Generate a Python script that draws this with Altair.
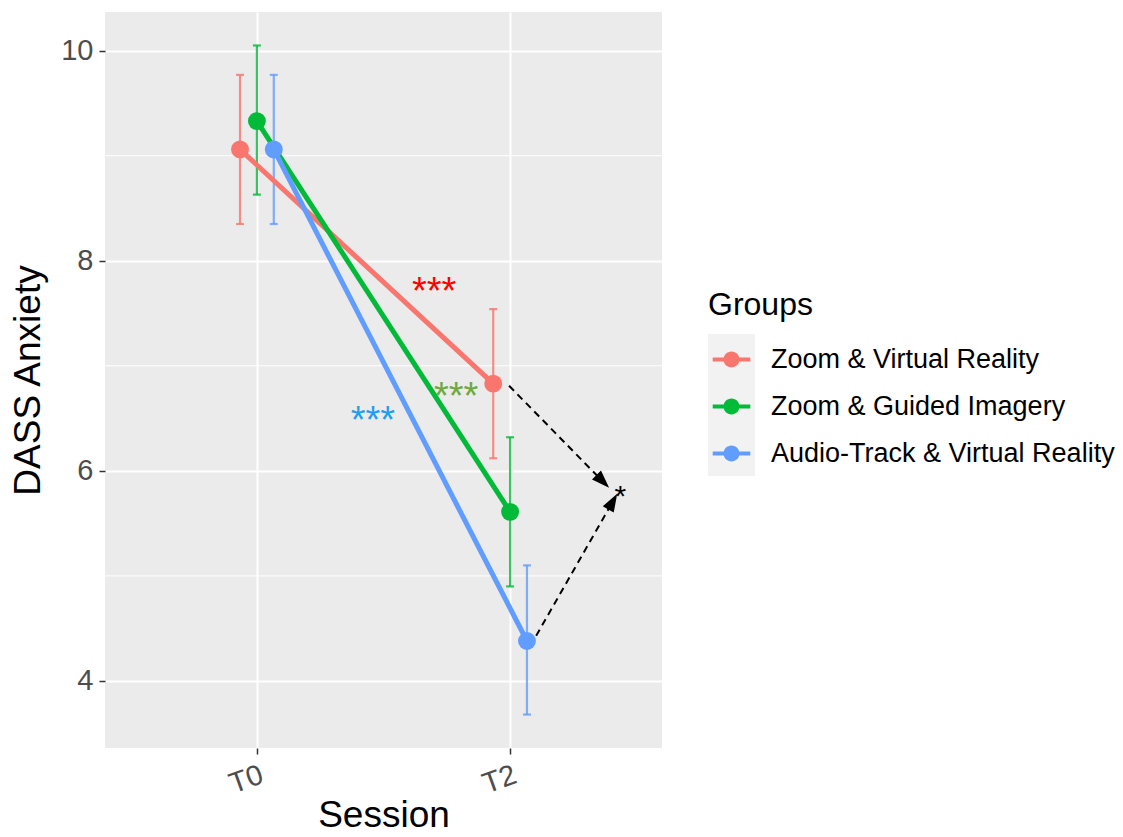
import math
import altair as alt
import pandas as pd

# ---------------- data ----------------
sessions = ["T0", "T2"]
groups = ["Zoom & Virtual Reality", "Zoom & Guided Imagery", "Audio-Track & Virtual Reality"]
group_colors = ["#F8766D", "#00BA38", "#619CFF"]

mean_zvr = [9.06, 6.83]
mean_zgi = [9.33, 5.61]
mean_atvr = [9.06, 4.38]
lower_zvr = [8.35, 6.12]
lower_zgi = [8.63, 4.90]
lower_atvr = [8.35, 3.68]
upper_zvr = [9.77, 7.54]
upper_zgi = [10.05, 6.32]
upper_atvr = [9.77, 5.10]

# significance annotations (x in session index units, T0 = 0)
star_keys = ["zvr", "zgi", "atvr", "diff"]
star_text = ["***", "***", "***", "*"]
star_x = [0.70, 0.787, 0.458, 1.435]
star_y = [7.79, 6.79, 6.56, 5.83]
star_colors = ["#FF0000", "#6DAA3C", "#1F9FF0", "#000000"]

arrow_from_x = [0.996, 1.103]
arrow_from_y = [6.81, 4.43]
arrow_to_x = [1.391, 1.423]
arrow_to_y = [5.838, 5.781]

# ---------------- build tables ----------------
means = [mean_zvr, mean_zgi, mean_atvr]
lowers = [lower_zvr, lower_zgi, lower_atvr]
uppers = [upper_zvr, upper_zgi, upper_atvr]
dodge = 0.2
rows = []
for gi, g in enumerate(groups):
    for si, s in enumerate(sessions):
        rows.append({
            "group": g, "session": s,
            "x": si + (gi - 1) * dodge / 3,
            "mean": means[gi][si], "lower": lowers[gi][si], "upper": uppers[gi][si],
        })
df = pd.DataFrame(rows)

W, H = 557, 736
lo = min(min(l) for l in lowers)
hi = max(max(u) for u in uppers)
pad = 0.05 * (hi - lo)
y_dom = [lo - pad, hi + pad]
x_dom = [-0.6, len(sessions) - 1 + 0.6]
px_x = W / (x_dom[1] - x_dom[0])
px_y = H / (y_dom[1] - y_dom[0])

head_half = 9
arrows = []
heads = []
for fx, fy, tx, ty in zip(arrow_from_x, arrow_from_y, arrow_to_x, arrow_to_y):
    dxp = (tx - fx) * px_x
    dyp = -(ty - fy) * px_y
    L = math.hypot(dxp, dyp)
    ux, uy = dxp / L, dyp / L
    ang = math.degrees(math.atan2(ux, -uy)) % 360
    cx = tx - ux * head_half / px_x
    cy = ty + uy * head_half / px_y
    arrows.append({"x": fx, "y": fy, "x2": cx, "y2": cy})
    heads.append({"x": cx, "y": cy, "angle": ang})
arrows_df = pd.DataFrame(arrows)
heads_df = pd.DataFrame(heads)
stars_df = pd.DataFrame({"key": star_keys, "text": star_text, "x": star_x, "y": star_y})
minor_df = pd.DataFrame({"v": [5, 7, 9]})

FONT = "Liberation Sans"
# fill scale: explicit domain (carries the legend); stroke scale: data-sorted domain
fill_scale = alt.Scale(domain=groups, range=group_colors)
sorted_groups = sorted(groups)
stroke_scale = alt.Scale(range=[group_colors[groups.index(g)] for g in sorted_groups])
label_expr = " : ".join(f"datum.value == {i} ? '{s}'" for i, s in enumerate(sessions)) + " : ''"

x_scale = alt.Scale(domain=x_dom, nice=False, zero=False)
y_scale = alt.Scale(domain=y_dom, nice=False, zero=False)
x_axis = alt.Axis(values=list(range(len(sessions))), labelExpr=label_expr, title="Session",
                  labelAngle=340, labelAlign="right", labelBaseline="top", labelPadding=6,
                  titleX=W / 2, titleY=78, titleAnchor="middle", titleAlign="center",
                  titleBaseline="alphabetic")
y_axis = alt.Axis(values=[4, 6, 8, 10], title="DASS Anxiety",
                  titleAngle=270, titleX=-77, titleY=H / 2, titleAlign="center",
                  titleBaseline="middle")


def X(field):
    return alt.X(field, type="quantitative", scale=x_scale, axis=x_axis)


def Y(field):
    return alt.Y(field, type="quantitative", scale=y_scale, axis=y_axis)


minor = alt.Chart(minor_df).mark_rule(color="white", strokeWidth=1).encode(y=Y("v"))

stroke_enc = alt.Stroke("group:N", scale=stroke_scale, legend=None)

err = alt.Chart(df).mark_rule(strokeWidth=2.2, opacity=0.8).encode(
    x=X("x"), y=Y("lower"), y2="upper:Q", stroke=stroke_enc)
cap_hi = alt.Chart(df).mark_rule(strokeWidth=2.2, opacity=0.8, xOffset=-4, x2Offset=4).encode(
    x=X("x"), x2="x:Q", y=Y("upper"), stroke=stroke_enc)
cap_lo = alt.Chart(df).mark_rule(strokeWidth=2.2, opacity=0.8, xOffset=-4, x2Offset=4).encode(
    x=X("x"), x2="x:Q", y=Y("lower"), stroke=stroke_enc)

lines = alt.Chart(df).mark_line(strokeWidth=5).encode(
    x=X("x"), y=Y("mean"), stroke=stroke_enc, detail="group:N")

legend_path = ("M-0.8,-0.09L0.8,-0.09L0.8,0.09L-0.8,0.09Z"
               "M0.34,0A0.34,0.34,0,1,1,-0.34,0A0.34,0.34,0,1,1,0.34,0Z")
points = alt.Chart(df).mark_circle(size=320, opacity=1).encode(
    x=X("x"), y=Y("mean"),
    fill=alt.Fill("group:N", scale=fill_scale,
                  legend=alt.Legend(title="Groups", orient="none", legendX=603, legendY=278,
                                    symbolType=legend_path, symbolSize=2209, symbolStrokeWidth=0,
                                    symbolOpacity=1, labelFontSize=27, labelColor="black",
                                    labelFont=FONT, titleFont=FONT, titleFontSize=32,
                                    titleFontWeight="normal", titleColor="black",
                                    labelOffset=16, titlePadding=14, rowPadding=10,
                                    padding=0, labelLimit=600)))

star_color = alt.Color("key:N", scale=alt.Scale(domain=star_keys, range=star_colors), legend=None)
stars = alt.Chart(stars_df.iloc[:3]).mark_text(font=FONT, fontSize=38, baseline="alphabetic", dy=21).encode(
    x=X("x"), y=Y("y"), text="text:N", color=star_color)
star_black = alt.Chart(stars_df.iloc[3:]).mark_text(font=FONT, fontSize=30, baseline="alphabetic", dy=17).encode(
    x=X("x"), y=Y("y"), text="text:N", color=star_color)

arrow_lines = alt.Chart(arrows_df).mark_rule(color="black", strokeWidth=2, strokeDash=[7, 5]).encode(
    x=X("x"), y=Y("y"), x2="x2:Q", y2="y2:Q")
arrow_heads = alt.Chart(heads_df).mark_point(
    shape="M0,-1L0.7,1L-0.7,1Z", filled=True, size=324, color="black", opacity=1).encode(
    x=X("x"), y=Y("y"), angle=alt.Angle("angle:Q", scale=None))

key_bg = alt.Chart(pd.DataFrame({"k": [0]})).mark_rect(color="#F2F2F2").encode(
    x=alt.value(603), x2=alt.value(650), y=alt.value(322), y2=alt.value(464))

chart = alt.layer(
    minor, err, cap_hi, cap_lo, lines, points, stars, star_black, arrow_lines, arrow_heads, key_bg
).properties(
    width=W, height=H,
    background="white",
    autosize=alt.AutoSizeParams(type="none"),
    padding={"left": 105, "top": 12, "right": 1123 - 105 - W, "bottom": 837 - 12 - H},
).configure_view(fill="#EBEBEB", stroke=None).configure_axis(
    domain=False, grid=True, gridColor="white", gridWidth=2,
    tickColor="#333333", tickSize=6, tickWidth=1.5,
    labelFont=FONT, labelFontSize=29, labelColor="#4D4D4D", labelPadding=6,
    titleFont=FONT, titleFontSize=37, titleFontWeight="normal", titleColor="black",
)

chart.save("out.html", embed_options={"renderer": "svg", "actions": False})
